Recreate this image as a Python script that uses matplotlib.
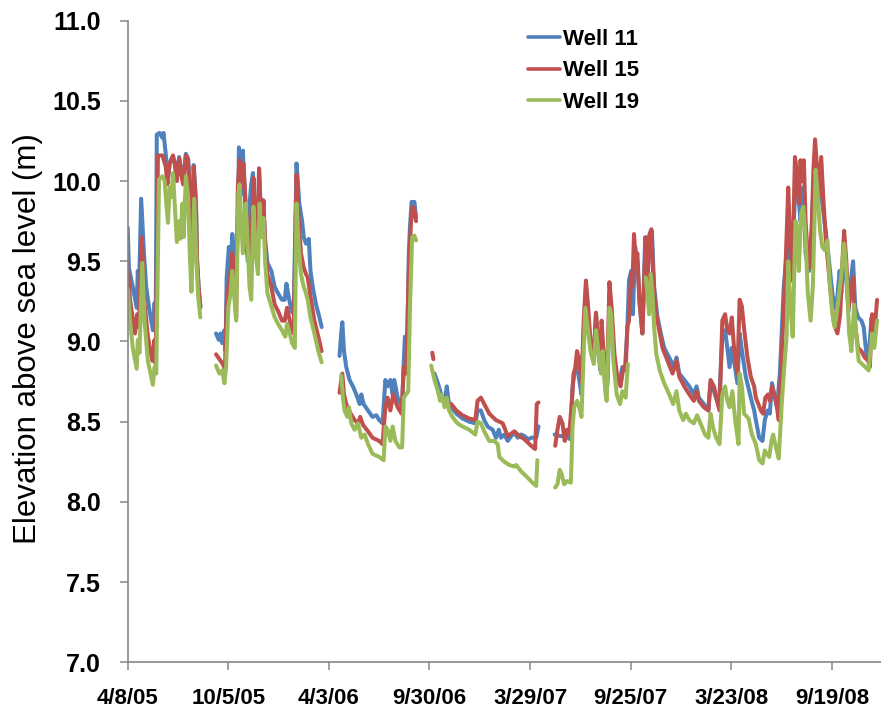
import numpy as np
import pandas as pd
import matplotlib
matplotlib.use("Agg")
import matplotlib.pyplot as plt
from matplotlib.ticker import FormatStrFormatter

plt.rcParams['font.family'] = ['Liberation Sans', 'DejaVu Sans']

# groundwater records, days counted from 4/8/05; nan marks a gap in the logger record
gap = np.nan
start_date = "2005-04-08"

well11_days = [
    0, 2, 9, 16, 18, 20, 24, 29, 33, 39, 45, 48, 50, 52, 57, 62, 64, 68, 72, 75,
    80, 84, 88, 92, 96, 99, 104, 108, 112, 116, 118, 122, 124, 127, 130,
    140,
    158, 163, 166, 169, 173, 175, 177, 181, 184, 187, 191, 194, 197, 199, 201, 204, 206,
    209, 212, 215, 218, 221, 224, 227, 232, 235, 239, 242, 246, 250, 257, 263, 269, 276,
    281, 284, 288, 293, 297, 302, 304, 307, 312, 315, 319, 324, 327, 331, 337, 343, 347,
    360,
    379, 382, 384, 387, 391, 397, 403, 409, 415, 418, 422, 430, 438, 445, 450, 456,
    461, 465, 470, 474, 477, 483, 491, 494, 496, 500, 503, 505, 508, 513, 516,
    530,
    549, 555, 561, 567, 571, 574, 579, 588, 599, 611, 622, 626, 632, 638, 644,
    653, 659, 664, 668, 674, 680, 686, 692, 698, 704, 710, 716, 722, 731, 735,
    750,
    764, 775, 784, 792, 796, 799, 804, 808, 812, 817,
    820, 824, 829, 834, 838, 841, 846, 848, 851, 856,
    859, 862, 865, 869, 875, 881, 885, 890, 894, 897,
    901, 904, 908, 912, 916, 921, 926, 930, 934, 938,
    942, 948, 954, 960, 969, 978, 982, 987, 996, 1005,
    1013, 1018, 1022, 1031, 1039, 1043, 1049, 1058, 1064, 1069,
    1073, 1077, 1081, 1085, 1091, 1095, 1100, 1106, 1115, 1121,
    1124, 1130, 1136, 1140, 1145, 1149, 1153, 1158, 1162, 1167,
    1170, 1174, 1178, 1182, 1186, 1192, 1195, 1201, 1204, 1209,
    1213, 1219, 1224, 1227, 1230, 1234, 1239, 1243, 1249, 1255,
    1261, 1265, 1270, 1274, 1277, 1281, 1286, 1290, 1294, 1298,
    1302, 1307, 1313, 1317, 1322, 1326, 1331, 1335, 1341,
]
well11_elev = [
    9.71, 9.46, 9.34, 9.21, 9.44, 9.30, 9.89, 9.55, 9.34, 9.19, 9.07, 9.24, 9.13, 10.29, 10.30, 10.27, 10.30, 10.17, 10.02, 10.11,
    10.15, 10.12, 10.02, 10.15, 10.06, 9.99, 10.17, 10.14, 9.88, 9.68, 10.10, 9.88, 9.52, 9.33, 9.22,
    gap,
    9.05, 9.01, 9.05, 8.99, 9.07, 8.94, 9.40, 9.59, 9.42, 9.67, 9.53, 9.38, 9.75, 10.21, 9.98, 9.92, 10.19,
    9.96, 9.61, 9.50, 9.86, 9.98, 10.05, 9.75, 9.50, 10.07, 9.75, 9.88, 9.63, 9.49, 9.44, 9.34, 9.30, 9.26,
    9.26, 9.36, 9.28, 9.19, 9.17, 10.11, 10.02, 9.86, 9.75, 9.65, 9.61, 9.64, 9.44, 9.34, 9.23, 9.15, 9.09,
    gap,
    8.91, 9.05, 9.12, 8.94, 8.84, 8.76, 8.72, 8.67, 8.61, 8.67, 8.61, 8.57, 8.53, 8.54, 8.51, 8.49,
    8.76, 8.72, 8.76, 8.67, 8.76, 8.65, 8.59, 8.88, 9.03, 8.92, 9.55, 9.71, 9.87, 9.87, 9.77,
    gap,
    8.80, 8.74, 8.67, 8.63, 8.72, 8.63, 8.59, 8.55, 8.52, 8.50, 8.49, 8.57, 8.57, 8.51, 8.47,
    8.45, 8.40, 8.45, 8.40, 8.42, 8.38, 8.41, 8.43, 8.40, 8.42, 8.41, 8.39, 8.40, 8.40, 8.47,
    gap,
    8.42, 8.41, 8.41, 8.39, 8.72, 8.80, 8.84, 8.76, 8.67, 9.15,
    9.34, 9.13, 8.96, 8.92, 9.17, 8.96, 8.82, 9.05, 8.92, 8.65,
    8.76, 9.30, 9.21, 8.92, 8.78, 8.76, 8.84, 8.84, 9.07, 9.38,
    9.44, 9.17, 9.59, 9.50, 9.24, 9.05, 9.65, 9.38, 9.67, 9.69,
    9.34, 9.15, 9.05, 8.96, 8.90, 8.84, 8.90, 8.80, 8.76, 8.72,
    8.67, 8.72, 8.65, 8.61, 8.57, 8.74, 8.69, 8.59, 9.03, 9.07,
    8.96, 8.84, 8.96, 8.88, 8.74, 9.05, 8.92, 8.78, 8.65, 8.57,
    8.51, 8.40, 8.38, 8.51, 8.57, 8.55, 8.74, 8.65, 8.59, 8.80,
    9.03, 9.34, 9.50, 9.59, 9.38, 9.75, 9.96, 9.88, 9.75, 9.96,
    9.55, 9.44, 9.69, 9.96, 10.13, 9.96, 9.96, 9.86, 9.69, 9.50,
    9.30, 9.21, 9.28, 9.44, 9.30, 9.55, 9.38, 9.19, 9.38, 9.50,
    9.21, 9.15, 9.13, 9.09, 8.92, 8.90, 9.15, 9.09, 9.13,
]

well15_days = [
    0, 4, 13, 17, 20, 25, 30, 36, 44, 48, 50, 54, 62, 68, 71, 75, 81, 84, 88, 92,
    96, 99, 104, 108, 112, 116, 118, 122, 124, 127, 130,
    140,
    158, 164, 170, 174, 177, 181, 185, 187, 191, 194, 197, 200, 203, 207, 211, 215, 220, 225, 229, 232,
    235, 239, 243, 246, 250, 257, 263, 269, 276, 281, 285, 290, 294, 297, 302, 306, 310, 315, 319, 322,
    327, 334, 341, 347,
    360,
    379, 384, 387, 391, 399, 406, 412, 416, 421, 430, 438, 450, 456, 461, 465, 470, 475, 483, 490, 494,
    498, 503, 507, 510, 513, 516,
    530,
    545, 547,
    560,
    579, 588, 599, 611, 622, 626, 632, 638, 647, 659, 671, 680, 692, 701, 710, 722, 729, 732, 735,
    750,
    765, 769, 773, 778, 782, 786, 790, 794, 798, 801,
    804, 808, 812, 816, 820, 824, 829, 834, 838, 842,
    846, 848, 851, 856, 859, 862, 866, 871, 876, 882,
    887, 891, 894, 897, 901, 903, 906, 909, 912, 916,
    921, 927, 930, 934, 937, 940, 944, 950, 957, 966,
    975, 982, 987, 996, 1005, 1013, 1018, 1022, 1031, 1039,
    1043, 1049, 1059, 1064, 1069, 1073, 1077, 1081, 1085, 1091,
    1095, 1099, 1103, 1109, 1115, 1121, 1124, 1133, 1137, 1141,
    1146, 1149, 1153, 1160, 1165, 1170, 1174, 1178, 1182, 1185,
    1189, 1194, 1197, 1201, 1204, 1207, 1210, 1213, 1216, 1220,
    1224, 1227, 1230, 1233, 1237, 1241, 1245, 1249, 1255, 1259,
    1264, 1270, 1275, 1279, 1282, 1286, 1290, 1294, 1298, 1302,
    1307, 1313, 1319, 1325, 1328, 1332, 1336, 1341,
]
well15_elev = [
    9.49, 9.26, 9.05, 9.17, 9.09, 9.65, 9.24, 9.03, 8.88, 9.01, 8.86, 10.16, 10.16, 10.09, 9.98, 10.11, 10.16, 10.11, 10.00, 10.14,
    10.05, 9.98, 10.16, 10.13, 9.86, 9.65, 10.09, 9.86, 9.50, 9.32, 9.21,
    gap,
    8.92, 8.89, 8.86, 8.83, 9.23, 9.36, 9.46, 9.55, 9.40, 9.15, 9.96, 10.13, 9.96, 10.11, 9.86, 9.65, 9.40, 10.02, 9.69, 9.50,
    10.08, 9.69, 9.88, 9.59, 9.42, 9.34, 9.23, 9.19, 9.13, 9.13, 9.21, 9.13, 9.07, 9.05, 10.04, 9.75, 9.55, 9.46, 9.42, 9.40,
    9.28, 9.13, 9.03, 8.94,
    gap,
    8.68, 8.80, 8.67, 8.61, 8.55, 8.51, 8.49, 8.53, 8.48, 8.44, 8.40, 8.38, 8.36, 8.59, 8.65, 8.57, 8.67, 8.59, 8.55, 8.84,
    8.80, 9.44, 9.75, 9.84, 9.82, 9.75,
    gap,
    8.93, 8.89,
    gap,
    8.61, 8.57, 8.54, 8.52, 8.51, 8.63, 8.65, 8.61, 8.55, 8.51, 8.49, 8.41, 8.44, 8.41, 8.39, 8.35, 8.33, 8.61, 8.62,
    gap,
    8.35, 8.45, 8.53, 8.49, 8.38, 8.45, 8.42, 8.59, 8.80, 8.84,
    8.94, 8.88, 8.74, 9.13, 9.38, 9.21, 8.96, 8.92, 9.18, 8.98,
    8.92, 9.13, 8.96, 8.78, 8.92, 9.37, 9.21, 8.92, 8.78, 8.72,
    8.84, 8.82, 9.09, 9.13, 9.42, 9.34, 9.67, 9.50, 9.55, 9.24,
    9.05, 9.65, 9.38, 9.67, 9.70, 9.44, 9.21, 9.09, 8.96, 8.88,
    8.80, 8.88, 8.78, 8.72, 8.67, 8.63, 8.69, 8.63, 8.59, 8.57,
    8.76, 8.72, 8.57, 9.13, 9.17, 9.07, 9.05, 9.15, 8.96, 8.80,
    9.26, 9.22, 9.08, 8.90, 8.78, 8.72, 8.65, 8.57, 8.55, 8.65,
    8.67, 8.63, 8.72, 8.63, 8.51, 8.88, 9.21, 9.55, 9.96, 9.65,
    9.38, 10.15, 10.07, 9.86, 10.13, 10.00, 10.13, 9.75, 9.59, 9.46,
    9.71, 10.07, 10.26, 10.11, 9.90, 10.15, 9.88, 9.65, 9.42, 9.26,
    9.11, 9.05, 9.17, 9.50, 9.69, 9.50, 9.21, 9.30, 9.40, 9.09,
    8.96, 8.94, 8.90, 8.88, 8.84, 9.17, 9.05, 9.26,
]

well19_days = [
    0, 4, 9, 16, 18, 21, 26, 30, 36, 45, 48, 51, 56, 62, 66, 69, 72, 75, 78, 81,
    84, 88, 92, 94, 98, 100, 104, 108, 111, 114, 117, 119, 123, 126, 130,
    140,
    158, 164, 169, 173, 176, 180, 184, 187, 191, 194, 198, 200, 203, 206, 211, 214, 218, 221, 225, 229,
    233, 236, 239, 243, 246, 250, 256, 263, 269, 276, 282, 285, 290, 294, 299, 302, 306, 310, 315, 319,
    322, 327, 334, 341, 347,
    360,
    382, 385, 388, 393, 396, 400, 406, 412, 418, 424, 430, 438, 450, 458, 461, 465, 470, 474, 479, 486,
    491, 494, 498, 502, 505, 509, 513, 516,
    530,
    543, 549, 555, 559, 562, 567, 571, 575, 581, 590, 599, 611, 622, 626, 632, 638, 647, 656, 662, 665,
    674, 683, 692, 695, 704, 716, 724, 731, 733,
    750,
    765, 769, 773, 776, 781, 786, 793, 796, 799, 804,
    808, 812, 816, 819, 823, 828, 834, 838, 842, 847,
    850, 853, 857, 862, 865, 869, 875, 881, 885, 891, 895,
    905,
    927, 930, 933, 936, 939, 942, 946, 952, 960, 969,
    976, 982, 987, 994, 999, 1005, 1013, 1019, 1025, 1033,
    1039, 1043, 1047, 1053, 1059, 1064, 1069, 1073, 1077, 1082,
    1087, 1093, 1095, 1099, 1103, 1111, 1117, 1124, 1130, 1136,
    1140, 1144, 1148, 1152, 1155, 1160, 1165, 1170, 1174, 1179,
    1182, 1186, 1190, 1195, 1198, 1201, 1205, 1209, 1213, 1217,
    1222, 1226, 1229, 1231, 1235, 1239, 1243, 1247, 1252, 1256,
    1261, 1265, 1270, 1276, 1282, 1286, 1291, 1295, 1300, 1304,
    1308, 1314, 1320, 1326, 1332, 1336, 1341,
]
well19_elev = [
    9.33, 9.13, 8.96, 8.83, 9.01, 8.93, 9.49, 9.13, 8.88, 8.73, 8.84, 8.80, 10.01, 10.03, 10.00, 9.86, 9.74, 9.96, 9.90, 10.05,
    9.86, 9.62, 9.75, 9.64, 9.86, 9.65, 10.03, 9.90, 9.55, 9.31, 9.65, 9.89, 9.50, 9.28, 9.15,
    gap,
    8.85, 8.80, 8.82, 8.74, 8.84, 9.21, 9.30, 9.44, 9.26, 9.13, 9.92, 9.98, 9.77, 9.55, 9.86, 9.65, 9.34, 9.26, 9.84, 9.55,
    9.42, 9.86, 9.65, 9.77, 9.49, 9.30, 9.23, 9.15, 9.11, 9.07, 9.03, 9.11, 9.05, 8.99, 8.96, 9.86, 9.59, 9.42, 9.34, 9.30,
    9.26, 9.15, 9.05, 8.94, 8.87,
    gap,
    8.79, 8.65, 8.57, 8.53, 8.59, 8.49, 8.45, 8.49, 8.40, 8.42, 8.36, 8.30, 8.28, 8.26, 8.47, 8.45, 8.38, 8.47, 8.38, 8.34,
    8.34, 8.65, 8.67, 8.69, 9.21, 9.65, 9.66, 9.63,
    gap,
    8.85, 8.76, 8.69, 8.63, 8.67, 8.59, 8.65, 8.57, 8.53, 8.49, 8.47, 8.45, 8.42, 8.50, 8.49, 8.44, 8.38, 8.38, 8.36, 8.28,
    8.25, 8.23, 8.22, 8.23, 8.19, 8.15, 8.12, 8.10, 8.26,
    gap,
    8.09, 8.11, 8.20, 8.18, 8.11, 8.13, 8.12, 8.47, 8.59, 8.63,
    8.59, 8.53, 8.94, 9.21, 9.09, 8.94, 8.86, 9.07, 8.94, 8.80,
    8.94, 8.76, 8.63, 9.21, 9.17, 8.88, 8.67, 8.61, 8.69, 8.65, 8.86,
    gap,
    9.40, 9.30, 9.17, 9.42, 9.30, 9.09, 8.92, 8.82, 8.74, 8.67,
    8.61, 8.69, 8.57, 8.51, 8.55, 8.51, 8.49, 8.54, 8.49, 8.42,
    8.40, 8.55, 8.47, 8.40, 8.36, 8.67, 8.72, 8.63, 8.59, 8.69,
    8.51, 8.36, 8.80, 8.72, 8.55, 8.52, 8.42, 8.36, 8.26, 8.24,
    8.32, 8.30, 8.28, 8.38, 8.42, 8.34, 8.27, 8.59, 8.80, 9.03,
    9.50, 9.21, 9.03, 9.75, 9.71, 9.44, 9.80, 9.84, 9.65, 9.30,
    9.13, 9.34, 9.75, 10.07, 9.90, 9.69, 9.59, 9.57, 9.63, 9.38,
    9.17, 9.09, 9.21, 9.38, 9.61, 9.44, 9.05, 8.94, 9.23, 9.03,
    8.88, 8.86, 8.84, 8.82, 9.05, 8.96, 9.13,
]

series_names = ["Well 11", "Well 15", "Well 19"]
series_colors = ["#4F81BD", "#C0504D", "#9BBB59"]
tick_labels = ["4/8/05", "10/5/05", "4/3/06", "9/30/06", "3/29/07", "9/25/07", "3/23/08", "9/19/08"]

start = pd.Timestamp(start_date)
series = [(well11_days, well11_elev), (well15_days, well15_elev), (well19_days, well19_elev)]

fig = plt.figure(figsize=(8.81, 7.11), dpi=100)
ax = fig.add_axes([0.145, 0.0685, 0.855, 0.9024])

for (days, elev), name, color in zip(series, series_names, series_colors):
    assert len(days) == len(elev), name
    dates = start + pd.to_timedelta(days, unit="D")
    ax.plot(dates, elev, color=color, lw=2.9, label=name,
            solid_joinstyle="round", solid_capstyle="round")

ax.set_xlim(start, start + pd.Timedelta(days=1348))
ax.set_ylim(7.0, 11.0)
ax.set_yticks(np.arange(7.0, 11.01, 0.5))
ax.yaxis.set_major_formatter(FormatStrFormatter("%.1f"))
ax.set_xticks(pd.to_datetime(tick_labels, format="%m/%d/%y"))
ax.set_xticklabels(tick_labels)

for side in ["top", "right"]:
    ax.spines[side].set_visible(False)
for side in ["left", "bottom"]:
    ax.spines[side].set_color("#868686")
    ax.spines[side].set_linewidth(1.2)

ax.tick_params(axis="both", direction="out", length=6, width=1.1, color="#868686")
ax.tick_params(axis="y", labelsize=18, pad=13.5)
ax.tick_params(axis="x", labelsize=16, pad=12.5)
for lbl in ax.get_xticklabels() + ax.get_yticklabels():
    lbl.set_fontweight("bold")

ax.set_ylabel("Elevation above sea level (m)", fontsize=22.5, va="center")
ax.yaxis.set_label_coords(-0.133, 0.504)

leg = ax.legend(loc="upper left", bbox_to_anchor=(528 / 881, 1 - 29 / 711),
                bbox_transform=fig.transFigure, frameon=False,
                prop=dict(weight="bold", size=16), handlelength=1.44,
                handletextpad=0.15, labelspacing=0.47, borderpad=0, borderaxespad=0)
for handle in leg.get_lines():
    handle.set_linewidth(2.6)

fig.savefig("out.png", dpi=100)
